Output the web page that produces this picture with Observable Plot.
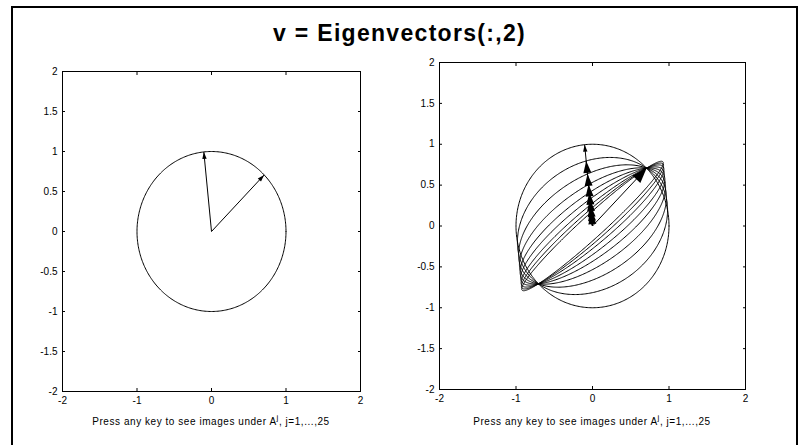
<!DOCTYPE html>
<html>
<head>
<meta charset="utf-8">
<script src="https://cdn.jsdelivr.net/npm/d3@7"></script>
<script src="https://cdn.jsdelivr.net/npm/@observablehq/plot@0.6"></script>
<style>
  html, body { margin: 0; padding: 0; background: #fff; }
  #fig { position: relative; width: 799px; height: 445px; overflow: hidden;
         font-family: "Liberation Sans", Arial, sans-serif; color: #000; }
  #border { position: absolute; left: 11px; top: 6px; width: 787px; height: 470px;
            border: 2px solid #000; box-sizing: border-box; }
  #title { position: absolute; left: 0; width: 799px; top: 22px; text-align: center;
           font-weight: bold; font-size: 23px; line-height: 23px; letter-spacing: 1.3px; }
  .cap { position: absolute; top: 416px; font-size: 10px; line-height: 12px; letter-spacing: 0.55px;
         white-space: nowrap; transform: translateX(-50%); }
  .cap sup { font-size: 8px; vertical-align: baseline; position: relative; top: -5px; }
  .panel { position: absolute; }
  .panel svg { overflow: visible; }
</style>
</head>
<body>
<div id="fig">
  <div id="border"></div>
  <div id="title">v = Eigenvectors(:,2)</div>
  <div class="panel" id="left" style="left:22px;top:60px"></div>
  <div class="panel" id="right" style="left:399px;top:51px"></div>
  <div class="cap" style="left:211px">Press any key to see images under A<sup>j</sup>, j=1,...,25</div>
  <div class="cap" style="left:592px">Press any key to see images under A<sup>j</sup>, j=1,...,25</div>
</div>
<script>
// Axis ticks
const xTicks = [-2, -1, 0, 1, 2];
const yTicks = [-2, -1.5, -1, -0.5, 0, 0.5, 1, 1.5, 2];

// Eigenvectors of A (columns of Eigenvectors)
const v1 = [0.707, 0.707];    // eigenvalue 1: fixed direction
const v2 = [-0.103, 0.995];   // second eigenvector

// Lengths of A^j * v2 shown so far (lambda_2^j)
const scales = [1, 0.8, 0.64, 0.51, 0.41, 0.33, 0.26, 0.21, 0.17];

// Image of the unit circle when the v2 component is scaled by s
function imageOfCircle(s, n = 360) {
  const det = v1[0] * v2[1] - v2[0] * v1[1];
  const pts = [];
  for (let i = 0; i <= n; i++) {
    const t = (2 * Math.PI * i) / n;
    const x = Math.cos(t), y = Math.sin(t);
    const a = (v2[1] * x - v2[0] * y) / det;
    const b = (-v1[1] * x + v1[0] * y) / det;
    pts.push({x: a * v1[0] + s * b * v2[0], y: a * v1[1] + s * b * v2[1], s});
  }
  return pts;
}

// Filled arrowhead, tip at the origin, pointing up
function head(len, half) {
  return {draw(ctx) { ctx.moveTo(0, 0); ctx.lineTo(half, len); ctx.lineTo(-half, len); ctx.closePath(); }};
}

const fmt = d => String(d);
function axes() {
  return [
    Plot.frame({stroke: "#000"}),
    Plot.axisX(xTicks, {anchor: "bottom", tickSize: -3, tickPadding: 8, tickFormat: fmt, label: null}),
    Plot.axisX(xTicks, {anchor: "top", tickSize: -3, tickFormat: () => "", label: null}),
    Plot.axisY(yTicks, {anchor: "left", tickSize: -3, tickPadding: 8, tickFormat: fmt, label: null}),
    Plot.axisY(yTicks, {anchor: "right", tickSize: -3, tickFormat: () => "", label: null})
  ];
}

function arrows(list, kx, ky) {
  // list: [{x, y, len, half}]
  const marks = [];
  marks.push(Plot.link(list, {x1: 0, y1: 0, x2: "x", y2: "y", stroke: "#000", strokeWidth: 1}));
  for (const d of list) {
    const rot = Math.atan2(d.x * kx, d.y * ky) * 180 / Math.PI;
    marks.push(Plot.dot([d], {x: "x", y: "y", symbol: head(d.len, d.half), rotate: rot,
                              fill: "#000", stroke: "none", r: 3}));
  }
  return marks;
}

function panel({width, height, ml, mr, mt, mb, marks}) {
  return Plot.plot({
    width, height,
    marginLeft: ml, marginRight: mr, marginTop: mt, marginBottom: mb,
    x: {domain: [-2, 2], label: null},
    y: {domain: [-2, 2], label: null},
    style: {fontFamily: "'Liberation Sans', Arial, sans-serif", fontSize: "10px", color: "#000", background: "transparent"},
    marks: [...axes(), ...marks]
  });
}

// Left: unit circle with the two eigenvectors
{
  const W = 360, H = 355, ml = 40, mr = 22, mt = 11, mb = 24;
  const kx = (W - ml - mr) / 4, ky = (H - mt - mb) / 4;
  const circle = imageOfCircle(1);
  const list = [
    {x: v2[0], y: v2[1], len: 7, half: 2.2},
    {x: v1[0], y: v1[1], len: 7, half: 2.2}
  ];
  document.getElementById("left").append(panel({
    width: W, height: H, ml, mr, mt, mb,
    marks: [
      Plot.line(circle, {x: "x", y: "y", stroke: "#000", strokeWidth: 1}),
      ...arrows(list, kx, ky)
    ]
  }));
}

// Right: images of the unit circle under A^j
{
  const W = 368, H = 364, ml = 40, mr = 22, mt = 11, mb = 26;
  const kx = (W - ml - mr) / 4, ky = (H - mt - mb) / 4;
  const curves = scales.flatMap(s => imageOfCircle(s));
  const list = [];
  for (const s of scales) {
    list.push(s === 1 ? {x: s * v2[0], y: s * v2[1], len: 7, half: 2.2}
                      : {x: s * v2[0], y: s * v2[1], len: 12, half: 4});
  }
  list.push({x: v1[0], y: v1[1], len: 15, half: 5.5});
  document.getElementById("right").append(panel({
    width: W, height: H, ml, mr, mt, mb,
    marks: [
      Plot.line(curves, {x: "x", y: "y", z: "s", stroke: "#000", strokeWidth: 1}),
      ...arrows(list, kx, ky)
    ]
  }));
}
</script>
</body>
</html>
